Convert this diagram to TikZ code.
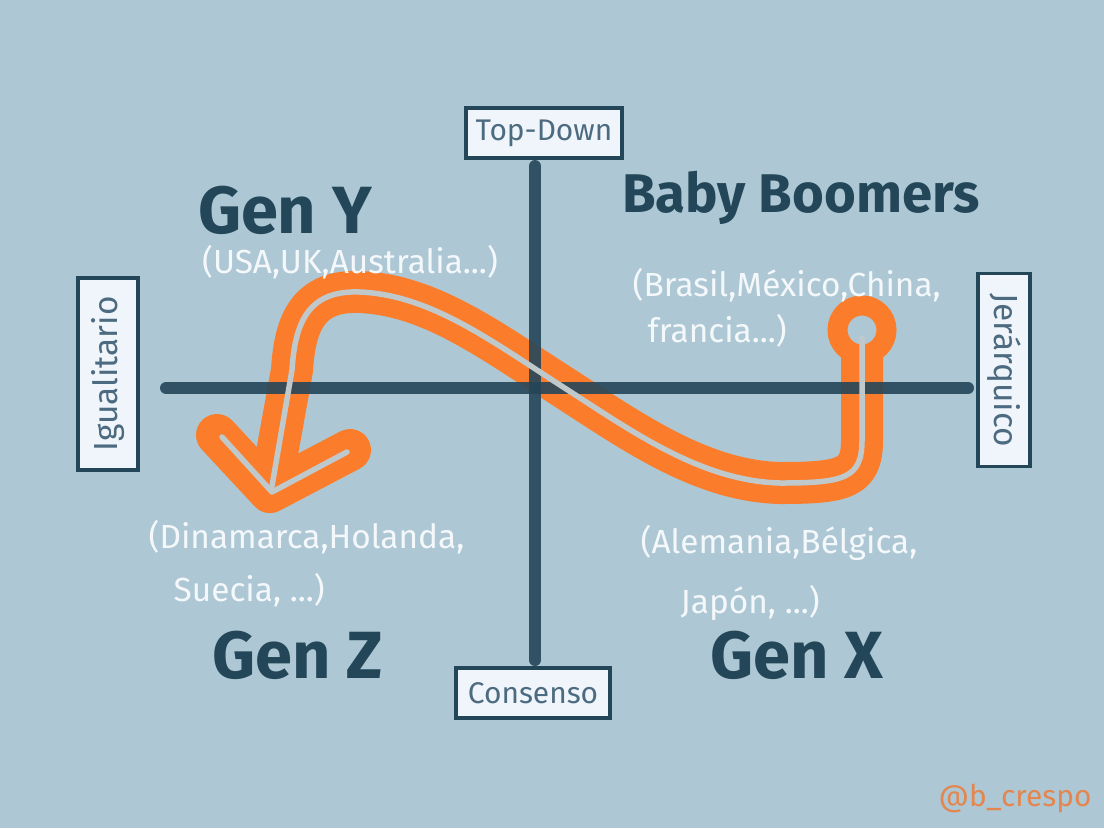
\documentclass[tikz,border=0pt]{standalone}
\usepackage{fontspec}
\setmainfont{Fira Sans}
\usepackage{xcolor}
\usetikzlibrary{positioning}

\definecolor{fondo}{HTML}{ADC8D4}
\definecolor{tinta}{HTML}{244659}
\definecolor{naranja}{HTML}{FB7D2B}
\definecolor{hueco}{HTML}{BFC9CC}
\definecolor{caja}{HTML}{EFF5FA}
\definecolor{cajatexto}{HTML}{4D6B80}
\definecolor{blanco}{HTML}{F4F8FB}
\definecolor{firma}{HTML}{E3864F}

\begin{document}
\begin{tikzpicture}[x=1cm, y=-1cm,
  every node/.style={font=\normalsize},
  axisbox/.style={
    rectangle, draw=tinta, fill=caja, line width=0.9pt,
    text=cajatexto, font=\fontsize{8.5}{10}\selectfont,
    inner sep=0pt, minimum width=#1, minimum height=0.5cm},
  genlbl/.style={font=\fontsize{19}{22}\selectfont\bfseries, text=tinta, anchor=base, inner sep=1pt},
  paislbl/.style={font=\fontsize{9.5}{12}\selectfont, text=blanco, align=left, inner sep=0pt},
  axisline/.style={draw=tinta, line width=0.12cm, line cap=round, opacity=0.9},
  band/.style={draw=naranja, line width=0.42cm, line join=round, line cap=#1},
  core/.style={draw=hueco, line width=0.055cm, line join=round, line cap=round}
]

%% ── BACKGROUND ───────────────────────────────────────────
\fill[fondo] (0,0) rectangle (11.04,8.28);
\useasboundingbox (0,0) rectangle (11.04,8.28);

%% ── ORANGE PATH ──────────────────────────────────────────
\draw[naranja, line width=0.2cm] (8.62,3.30) circle (0.245);
\draw[band=butt] (8.62,3.55) -- (8.62,4.40)
  .. controls (8.62,4.78) and (8.45,4.83) .. (7.80,4.83)
  .. controls (7.00,4.81) and (6.30,4.30) .. (5.60,3.85)
  .. controls (4.90,3.40) and (4.30,2.95) .. (3.60,2.92)
  .. controls (3.10,2.90) and (2.95,3.20) .. (2.92,3.70)
  -- (2.70,4.92);
\draw[band=round] (2.17,4.35) -- (2.70,4.92) -- (3.50,4.50);

%% ── AXES ─────────────────────────────────────────────────
\coordinate (ejeN) at (5.35,1.66);
\coordinate (ejeS) at (5.35,6.60);
\coordinate (ejeO) at (1.66,3.88);
\coordinate (ejeE) at (9.68,3.88);
\draw[axisline] (ejeN) -- (ejeS);
\draw[axisline] (ejeO) -- (ejeE);

%% Thin line inside the orange path
\draw[core] (8.62,3.38) -- (8.62,4.40)
  .. controls (8.62,4.78) and (8.45,4.83) .. (7.80,4.83)
  .. controls (7.00,4.81) and (6.30,4.30) .. (5.60,3.85)
  .. controls (4.90,3.40) and (4.30,2.95) .. (3.60,2.92)
  .. controls (3.10,2.90) and (2.95,3.20) .. (2.92,3.70)
  -- (2.72,4.86);
\draw[core] (2.22,4.37) -- (2.72,4.92) -- (3.47,4.52);

%% ── AXIS BOXES ───────────────────────────────────────────
\node[axisbox=1.56cm] (topdown)  at (5.44,1.33) {Top-Down};
\node[axisbox=1.54cm] (consenso) at (5.33,6.93) {Consenso};
\node[axisbox=1.92cm, minimum height=0.6cm, rotate=90,
      font=\fontsize{9.5}{11}\selectfont] (igual) at (1.08,3.74) {Igualitario};
\node[axisbox=1.93cm, minimum height=0.52cm, rotate=-90,
      font=\fontsize{9.5}{11}\selectfont] (jerar) at (10.04,3.70) {Jerárquico};

%% ── GENERATIONS ──────────────────────────────────────────
\node[genlbl] (geny)  at (2.85,2.33) {Gen Y};
\node[genlbl, font=\fontsize{15.5}{19}\selectfont\bfseries] (boom) at (8.01,2.12) {Baby Boomers};
\node[genlbl] (genz)  at (2.98,6.78) {Gen Z};
\node[genlbl] (genx)  at (7.97,6.78) {Gen X};

%% Countries
\node[paislbl] (usa) at (3.50,2.62) {(USA,UK,Australia...)};
\node[paislbl, anchor=north west] (brasil) at (6.32,2.68)
  {(Brasil,México,China,\\[1pt]\hspace{0.15cm}francia...)};
\node[paislbl, anchor=north west] (dinamarca) at (1.48,5.20)
  {(Dinamarca,Holanda,\\[3pt]\hspace{0.25cm}Suecia, ...)};
\node[paislbl, anchor=north west] (alemania) at (6.40,5.25)
  {(Alemania,Bélgica,\\[5pt]\hspace{0.40cm}Japón, ...)};

%% Signature
\node[font=\fontsize{8.5}{10}\selectfont, text=firma] (firma) at (10.15,7.98) {@b\_crespo};

\end{tikzpicture}
\end{document}
